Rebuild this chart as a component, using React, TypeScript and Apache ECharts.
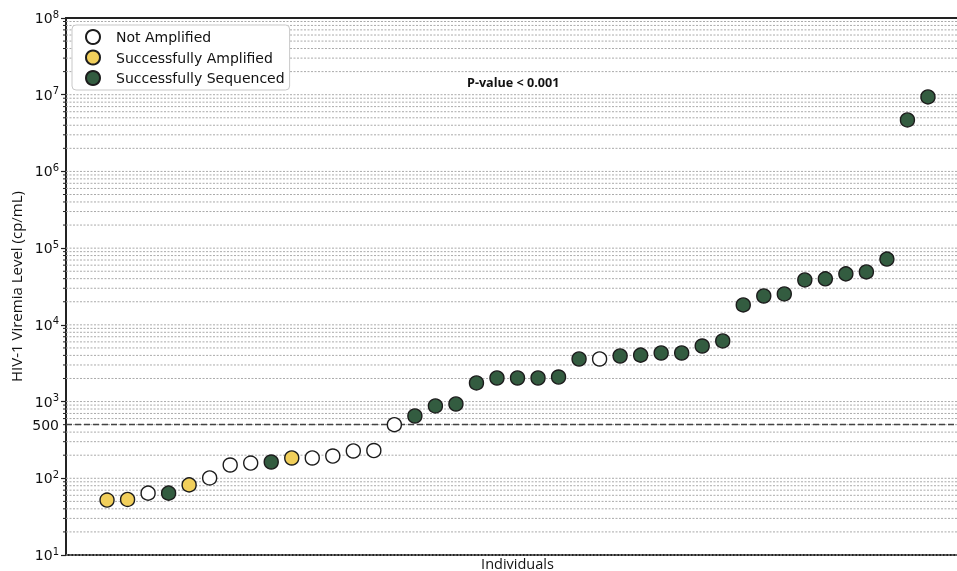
import React, { useEffect, useRef } from "react";
import * as echarts from "echarts";

const notAmplified: [number, number][] = [
  [2, 64], [5, 101], [6, 149], [7, 158], [10, 184], [11, 195], [12, 227], [13, 230], [14, 500], [24, 3590],
];
const amplified: [number, number][] = [
  [0, 52], [1, 53], [4, 82], [9, 184],
];
const sequenced: [number, number][] = [
  [3, 64], [8, 163], [15, 649], [16, 877], [17, 930], [18, 1750], [19, 2030], [20, 2030], [21, 2030], [22, 2090],
  [23, 3590], [25, 3930], [26, 4030], [27, 4300], [28, 4300], [29, 5300], [30, 6170], [31, 18200], [32, 23800],
  [33, 25300], [34, 38500], [35, 39800], [36, 46200], [37, 49000], [38, 72000], [39, 4690000], [40, 9360000],
];
const decades = [1, 2, 3, 4, 5, 6, 7];
const minorMultipliers = [2, 3, 4, 5, 6, 7, 8, 9];
const thresholdValue = 500;
const seriesNames = ["Not Amplified", "Successfully Amplified", "Successfully Sequenced"];
const pValueText = "P-value < 0.001";

const gridValues: number[] = [];
decades.forEach((d) => {
  gridValues.push(Math.pow(10, d));
  minorMultipliers.forEach((m) => gridValues.push(m * Math.pow(10, d)));
});
gridValues.push(1e8);

export default function App() {
  const ref = useRef<HTMLDivElement>(null);
  useEffect(() => {
    const chart = echarts.init(ref.current!, null, { renderer: "svg" });
    const markerBorder = { borderColor: "#1c1c1c", borderWidth: 1.4, opacity: 1 };
    chart.setOption({
      animation: false,
      grid: {
        left: 66, right: -12, top: 18, bottom: 16,
        outerBoundsMode: "none",
        containLabel: false,
        show: true, borderColor: "#222", borderWidth: 1.8, backgroundColor: "transparent",
      },
      legend: {
        data: seriesNames,
        orient: "vertical",
        left: 72, top: 25,
        padding: [4, 5, 4, 13],
        itemGap: 4.5,
        itemWidth: 20, itemHeight: 14,
        icon: "circle",
        backgroundColor: "#fff",
        borderColor: "#c8c8c8", borderWidth: 1, borderRadius: 4,
        textStyle: { fontFamily: "DejaVu Sans", fontSize: 14, color: "#111", padding: [0, 0, 0, 8] },
        z: 10,
      },
      xAxis: {
        type: "value", min: -2, max: 42,
        axisLine: { show: false }, axisTick: { show: false }, axisLabel: { show: false }, splitLine: { show: false },
        name: "Individuals", nameLocation: "middle", nameGap: 8,
        nameTextStyle: { fontFamily: "Open Sans", fontSize: 14.5, lineHeight: 13, color: "#111", verticalAlign: "middle" },
      },
      yAxis: {
        type: "log", logBase: 10, min: 10, max: 1e8,
        axisLine: { show: true, onZero: false, lineStyle: { color: "#222", width: 1.8 } },
        axisTick: { show: true, length: 5, lineStyle: { color: "#222", width: 1.2 } },
        splitLine: { show: false },
        axisLabel: {
          margin: 7,
          formatter: (v: number) => `{b|10}{s|${Math.round(Math.log10(v))}}`,
          rich: {
            b: { fontFamily: "DejaVu Sans", fontSize: 14, color: "#111", lineHeight: 18 },
            s: { fontFamily: "DejaVu Sans", fontSize: 10, color: "#111", lineHeight: 10, verticalAlign: "top" },
          },
        },
        name: "HIV-1 Viremia Level (cp/mL)", nameLocation: "middle", nameGap: 42,
        nameTextStyle: { fontFamily: "Open Sans", fontSize: 15, color: "#111" },
      },
      graphic: [
        {
          type: "text", left: 467, top: 76, z: 10,
          style: { text: pValueText, fontFamily: "Open Sans", fontWeight: "bold", fontSize: 12.6, fill: "#111" },
        },
      ],
      series: [
        {
          type: "custom",
          silent: true,
          clip: false,
          z: 1,
          data: gridValues.map((v) => [0, v]),
          encode: { x: 0, y: 1 },
          renderItem: (params: any, api: any) => {
            const v = api.value(1);
            const y = api.coord([0, v])[1];
            const cs = params.coordSys;
            const isMajor = Math.abs(Math.log10(v) - Math.round(Math.log10(v))) < 1e-9;
            const children: any[] = [];
            if (v < 1e8) {
              children.push({
                type: "line",
                shape: { x1: cs.x, y1: y, x2: cs.x + cs.width, y2: y },
                style: { stroke: "#aaaaaa", lineWidth: 1, lineDash: [2, 1.5] },
              });
            }
            if (!isMajor) {
              children.push({
                type: "line",
                shape: { x1: cs.x - 3, y1: y, x2: cs.x, y2: y },
                style: { stroke: "#222", lineWidth: 1 },
              });
            }
            return { type: "group", children };
          },
        },
        {
          name: seriesNames[0], type: "scatter", data: notAmplified, symbolSize: 14, z: 5,
          itemStyle: { color: "#ffffff", ...markerBorder },
          markLine: {
            silent: true, symbol: "none",
            lineStyle: { color: "#444", type: [6, 3], width: 1.3 },
            label: {
              show: true, position: "start", formatter: String(thresholdValue), distance: 7,
              fontFamily: "DejaVu Sans", fontSize: 14, color: "#111",
            },
            data: [{ yAxis: thresholdValue }],
          },
        },
        {
          name: seriesNames[1], type: "scatter", data: amplified, symbolSize: 14, z: 5,
          itemStyle: { color: "#f1cf5b", ...markerBorder },
        },
        {
          name: seriesNames[2], type: "scatter", data: sequenced, symbolSize: 14, z: 5,
          itemStyle: { color: "#335c40", ...markerBorder },
        },
      ],
    });
    return () => chart.dispose();
  }, []);
  return <div ref={ref} style={{ position: "fixed", left: 0, top: 0, width: 957, height: 571 }} />;
}
